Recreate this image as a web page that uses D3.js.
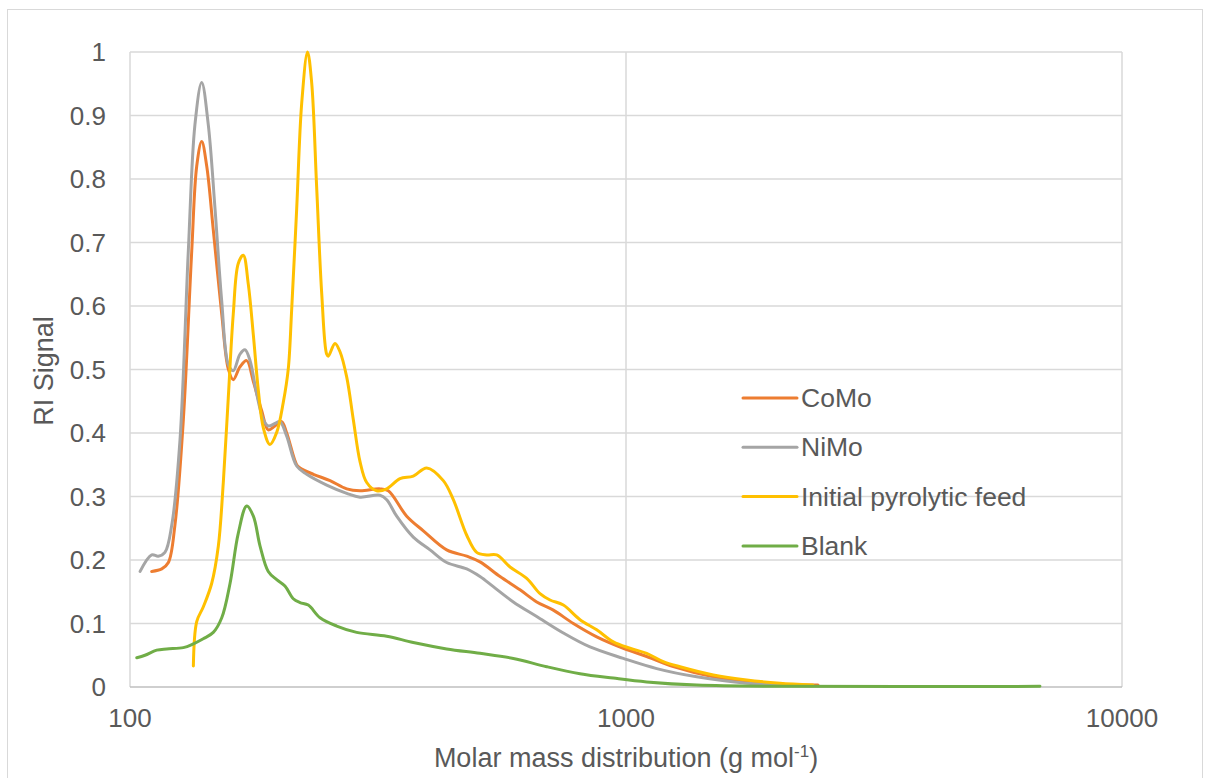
<!DOCTYPE html>
<html>
<head>
    <meta charset="UTF-8">
    <title>RI Signal vs molar mass</title>
    <script src="https://d3js.org/d3.v7.min.js"></script>
    <style>
        body { margin: 0; padding: 0; background: #fff; overflow: hidden; }
        svg { display: block; }
        .tick-label { font: 26px "Liberation Sans", Arial, sans-serif; fill: #595959; }
        .axis-title { font: 27px "Liberation Sans", Arial, sans-serif; fill: #595959; }
        .legend-label { font: 26.5px "Liberation Sans", Arial, sans-serif; fill: #595959; }
    </style>
</head>
<body>
<svg width="1205" height="778"></svg>
<script>
    // data: [molar mass, RI signal]
    const seriesNames = ["CoMo", "NiMo", "Initial pyrolytic feed", "Blank"];
    const seriesColors = ["#ED7D31", "#A5A5A5", "#FFC000", "#70AD47"];

    const como = [
        [110.6,0.182],[115.9,0.186],[119.5,0.196],[123.2,0.255],[128.1,0.421],[133.2,0.687],
        [136.3,0.82],[139.5,0.859],[142.8,0.82],[147.2,0.72],[153.1,0.587],[157.8,0.501],
        [161.5,0.484],[166.6,0.504],[171.9,0.514],[177.3,0.481],[184.3,0.435],[190.0,0.405],
        [196.0,0.411],[202.2,0.418],[207.0,0.40],[216.8,0.350],[220.2,0.345],[234.2,0.335],
        [253.1,0.325],[273.5,0.312],[290.9,0.309],[319.2,0.312],[331.7,0.309],[361.3,0.269],
        [390.3,0.246],[435.0,0.216],[477.4,0.206],[507.7,0.197],[557.2,0.174],[611.4,0.153],
        [660.7,0.134],[713.7,0.121],[783.1,0.100],[872.9,0.079],[987.6,0.061],[1100.9,0.048],
        [1245.6,0.032],[1499.9,0.016],[1891.8,0.006],[2438,0.003]
    ];
    const nimo = [
        [104.8,0.182],[110.6,0.208],[114.0,0.206],[117.6,0.212],[121.4,0.255],[126.1,0.388],
        [131.1,0.687],[135.2,0.886],[139.5,0.952],[143.8,0.886],[148.4,0.753],[153.1,0.607],
        [157.8,0.508],[161.5,0.498],[166.6,0.524],[170.5,0.531],[174.6,0.514],[180.1,0.461],
        [185.7,0.421],[190.0,0.411],[196.0,0.415],[200.6,0.418],[207.0,0.395],[216.8,0.348],
        [227.1,0.335],[249.2,0.318],[273.5,0.305],[290.9,0.299],[319.2,0.302],[329.3,0.295],
        [344.9,0.269],[372.5,0.236],[402.6,0.216],[435.0,0.196],[477.4,0.186],[507.7,0.174],
        [540.1,0.158],[592.7,0.134],[660.7,0.111],[747.6,0.085],[846.2,0.063],[987.6,0.045],
        [1153.2,0.029],[1388.6,0.016],[1751.3,0.006],[2382,0.002]
    ];
    const feed = [
        [134.2,0.033],[136.3,0.103],[140.5,0.126],[146.1,0.163],[150.7,0.222],[154.2,0.322],
        [157.8,0.455],[161.5,0.587],[165.3,0.667],[169.2,0.680],[173.2,0.634],[177.3,0.554],
        [181.4,0.468],[185.7,0.408],[191.5,0.382],[197.6,0.401],[203.7,0.448],[208.5,0.501],
        [211.8,0.594],[216.8,0.753],[221.9,0.919],[228.0,1.0],[232.4,0.952],[237.9,0.786],
        [243.5,0.620],[249.2,0.524],[251.1,0.521],[259.0,0.541],[265.1,0.528],[273.5,0.488],
        [282.0,0.421],[290.9,0.355],[300.1,0.322],[314.3,0.309],[329.3,0.312],[350.2,0.328],
        [372.5,0.332],[396.5,0.345],[428.2,0.325],[448.6,0.295],[477.4,0.239],[500.0,0.212],
        [523.8,0.208],[548.7,0.208],[583.7,0.189],[630.7,0.171],[670.9,0.147],[702.8,0.137],
        [747.6,0.129],[807.8,0.106],[872.9,0.090],[942.8,0.071],[1018.8,0.061],[1100.9,0.053],
        [1189.1,0.040],[1285.0,0.032],[1499.9,0.019],[1751.3,0.011],[2043.9,0.006],[2382,0.003]
    ];
    const blank = [
        [103.2,0.046],[107.2,0.050],[113.2,0.058],[118.6,0.060],[128.1,0.062],[134.2,0.068],
        [140.5,0.076],[147.2,0.086],[153.1,0.109],[159.1,0.163],[165.3,0.242],[171.9,0.285],
        [177.3,0.269],[182.9,0.222],[190.0,0.182],[197.6,0.169],[205.3,0.159],[213.4,0.139],
        [220.2,0.133],[228.8,0.129],[241.6,0.109],[261.1,0.096],[286.4,0.086],[329.3,0.080],
        [372.5,0.070],[435.0,0.060],[507.7,0.053],[592.7,0.045],[692.1,0.032],[807.8,0.021],
        [942.8,0.014],[1100.9,0.008],[1388.6,0.003],[2043.9,0.001],[6832,0.001]
    ];
    const allSeries = [como, nimo, feed, blank];

    const xTicks = [100, 1000, 10000];
    const yTicks = [0, 0.1, 0.2, 0.3, 0.4, 0.5, 0.6, 0.7, 0.8, 0.9, 1];

    const svg = d3.select("svg");
    const plot = {left: 130, right: 1122, top: 52, bottom: 687};

    // outer chart frame
    svg.append("rect")
        .attr("x", 7.5).attr("y", 9.5)
        .attr("width", 1195).attr("height", 800)
        .attr("fill", "none").attr("stroke", "#d9d9d9").attr("stroke-width", 1);

    const x = d3.scaleLog().domain([100, 10000]).range([plot.left, plot.right]);
    const y = d3.scaleLinear().domain([0, 1]).range([plot.bottom, plot.top]);

    // horizontal grid
    svg.append("g").selectAll("line")
        .data(yTicks.filter(d => d > 0))
        .enter().append("line")
        .attr("x1", plot.left).attr("x2", plot.right)
        .attr("y1", d => y(d)).attr("y2", d => y(d))
        .attr("stroke", "#d9d9d9").attr("stroke-width", 1.5);

    // vertical grid at decades
    svg.append("g").selectAll("line")
        .data(xTicks)
        .enter().append("line")
        .attr("x1", d => x(d)).attr("x2", d => x(d))
        .attr("y1", plot.top).attr("y2", plot.bottom)
        .attr("stroke", "#d9d9d9").attr("stroke-width", 1.5);

    // x axis line
    svg.append("line")
        .attr("x1", plot.left).attr("x2", plot.right)
        .attr("y1", y(0)).attr("y2", y(0))
        .attr("stroke", "#bfbfbf").attr("stroke-width", 1.5);

    // tick labels
    svg.append("g").selectAll("text")
        .data(yTicks)
        .enter().append("text")
        .attr("class", "tick-label")
        .attr("x", 106)
        .attr("y", d => y(d) + 9)
        .attr("text-anchor", "end")
        .text(d => d3.format("~g")(d));

    svg.append("g").selectAll("text")
        .data(xTicks)
        .enter().append("text")
        .attr("class", "tick-label")
        .attr("x", d => x(d))
        .attr("y", 727)
        .attr("text-anchor", "middle")
        .text(d => d);

    // axis titles
    const xt = svg.append("text")
        .attr("class", "axis-title")
        .attr("x", 626).attr("y", 767)
        .attr("text-anchor", "middle");
    xt.append("tspan").text("Molar mass distribution (g mol");
    xt.append("tspan").attr("dy", -10).style("font-size", "17px").text("-1");
    xt.append("tspan").attr("dy", 10).text(")");

    svg.append("text")
        .attr("class", "axis-title")
        .attr("transform", "translate(53,371) rotate(-90)")
        .attr("text-anchor", "middle")
        .text("RI Signal");

    // series lines
    const line = d3.line()
        .x(d => x(d[0]))
        .y(d => y(d[1]))
        .curve(d3.curveCatmullRom.alpha(0.5));

    svg.append("g").selectAll("path")
        .data(allSeries)
        .enter().append("path")
        .attr("d", line)
        .attr("fill", "none")
        .attr("stroke", (d, i) => seriesColors[i])
        .attr("stroke-width", 3)
        .attr("stroke-linejoin", "round")
        .attr("stroke-linecap", "round");

    // legend
    const legend = svg.append("g").selectAll("g")
        .data(seriesNames)
        .enter().append("g")
        .attr("transform", (d, i) => `translate(743,${398 + i * 49.3})`);
    legend.append("line")
        .attr("x1", 0).attr("x2", 54)
        .attr("stroke", (d, i) => seriesColors[i])
        .attr("stroke-width", 3)
        .attr("stroke-linecap", "round");
    legend.append("text")
        .attr("class", "legend-label")
        .attr("x", 58).attr("y", 9)
        .text(d => d);
</script>
</body>
</html>
